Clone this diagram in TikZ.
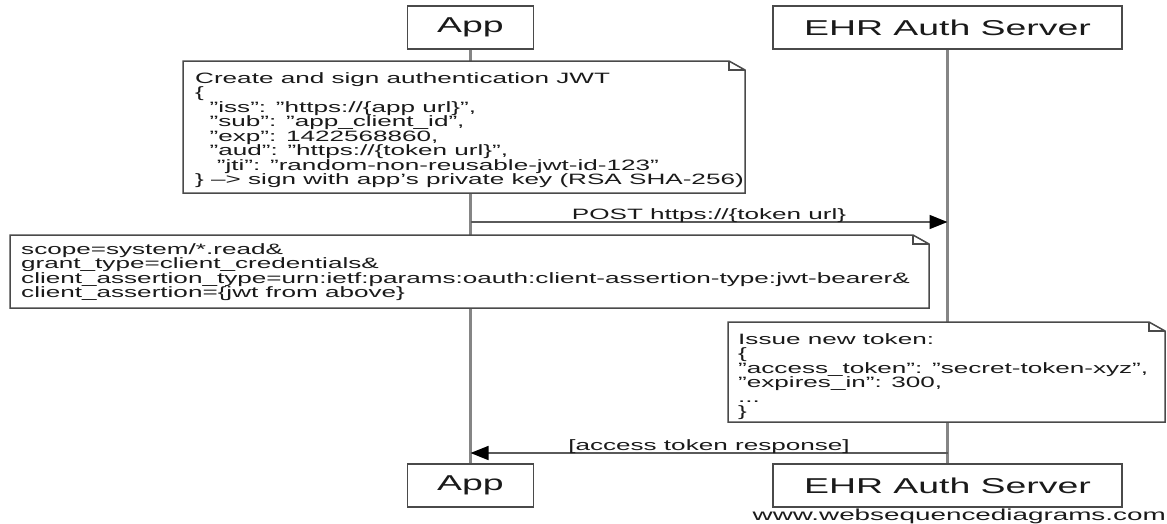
\documentclass[tikz,border=0pt]{standalone}
\usepackage{fontspec}
\setmainfont{Liberation Sans}[FakeStretch=1.74]
\usetikzlibrary{arrows.meta}
\definecolor{boxline}{HTML}{4A4A4A}
\definecolor{lifecol}{HTML}{858585}
\definecolor{msgcol}{HTML}{5A5A5A}
\definecolor{txt}{HTML}{1A1A1A}
\newcommand\dognote[4]{%
  \draw[noteshape] (#1,#2) -- (#3-16,#2) -- (#3,#2+9) -- (#3,#4) -- (#1,#4) -- cycle;
  \draw[noteshape, fill=none] (#3-16,#2) -- (#3-16,#2+9) -- (#3,#2+9);}
\begin{document}
\begin{tikzpicture}[x=1pt,y=-1pt,
  actor/.style={draw=boxline, line width=1.7pt, fill=white, minimum width=#1,
    minimum height=43pt, inner sep=0pt, font=\fontsize{21.5}{24}\selectfont, text=txt},
  notetext/.style={inner sep=0pt, align=left, anchor=north west,
    font=\fontsize{15}{14.5}\selectfont, text=txt},
  noteshape/.style={draw=boxline, line width=1.5pt, fill=white, line join=miter},
  life/.style={draw=lifecol, line width=2.4pt},
  msg/.style={draw=msgcol, line width=1.6pt,
    -{Triangle[length=18pt,width=14pt,color=black]}},
  msglabel/.style={inner sep=0pt, anchor=base, font=\fontsize{15}{18}\selectfont, text=txt},
]
\useasboundingbox (0,0) rectangle (1167,523);
% actors
\node[actor=126] (appTop) at (470.5,27.5) {App};
\node[actor=349] (ehrTop) at (947.5,27.5) {EHR Auth Server};
\node[actor=126] (appBot) at (470.5,485.5) {App};
\node[actor=349] (ehrBot) at (947.5,485.5) {EHR Auth Server};
% lifelines
\draw[life] (appTop) -- (appBot);
\draw[life] (ehrTop) -- (ehrBot);
% note 1
\dognote{183}{61}{745}{193}
\node[notetext] (note1) at (195,72) {Create and sign authentication JWT\\
\{\\
\mbox{}\ \ "iss": "https://\{app url\}",\\
\mbox{}\ \ "sub": "app\_client\_id",\\
\mbox{}\ \ "exp": 1422568860,\\
\mbox{}\ \ "aud": "https://\{token url\}",\\
\mbox{}\ \ \ "jti": "random-non-reusable-jwt-id-123"\\
\} --> sign with app's private key (RSA SHA-256)};
% POST message
\coordinate (postA) at (470.5,222);
\coordinate (postB) at (947.5,222);
\draw[msg] (postA) -- (postB);
\node[msglabel] (postlbl) at (709,219.5) {POST https://\{token url\}};
% note 2
\dognote{10}{235}{929}{308}
\node[notetext] (note2) at (21,243) {scope=system/*.read\&\\
grant\_type=client\_credentials\&\\
client\_assertion\_type=urn:ietf:params:oauth:client-assertion-type:jwt-bearer\&\\
client\_assertion=\{jwt from above\}};
% note 3
\dognote{728}{322}{1165}{422}
\node[notetext] (note3) at (738,333) {Issue new token:\\
\{\\
"access\_token": "secret-token-xyz",\\
"expires\_in": 300,\\
...\\
\}};
% response message
\coordinate (respB) at (947.5,453);
\coordinate (respA) at (470.5,453);
\draw[msg] (respB) -- (respA);
\node[msglabel] (resplbl) at (709,450) {[access token response]};
% watermark
\node[inner sep=0pt, anchor=base east, font=\fontsize{16}{18}\selectfont, text=txt]
  (wsd) at (1166,520) {www.websequencediagrams.com};
\end{tikzpicture}
\end{document}
